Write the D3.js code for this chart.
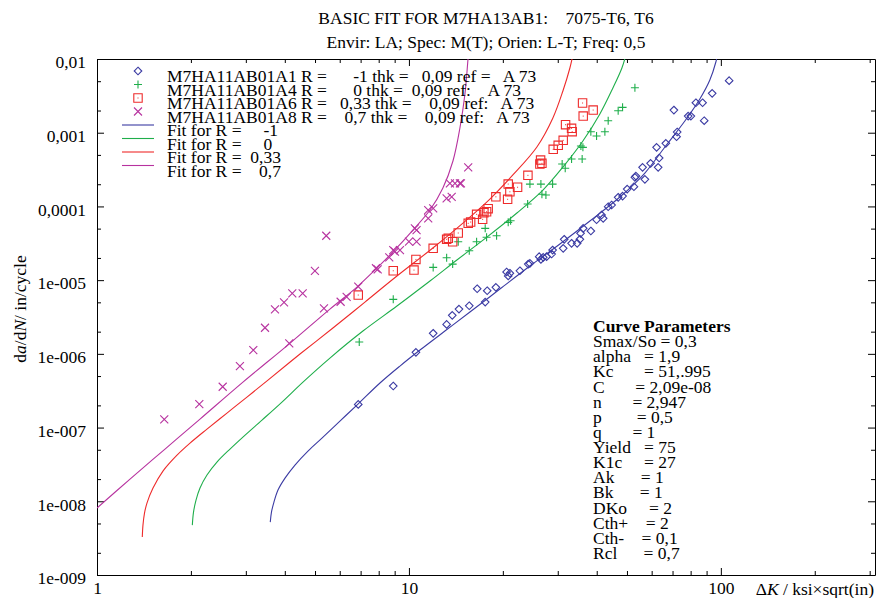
<!DOCTYPE html>
<html>
<head>
<meta charset="utf-8">
<script src="https://cdn.jsdelivr.net/npm/d3@7"></script>
<style>
  html, body { margin: 0; padding: 0; background: #fff; }
  svg text { font-family: "Liberation Serif", "Times New Roman", serif; fill: #000; }
  .pre { white-space: pre; }
</style>
</head>
<body>
<svg id="chart" width="876" height="598"></svg>
<script>
// ---- Measured crack growth data: [deltaK (ksi*sqrt(in)), da/dN (in/cycle)] ----
const pointsA1 = [ // R = -1
  [6.879,2.06e-7],[8.907,3.66e-7],[10.53,1.048e-6],[11.96,1.90e-6],[13.21,2.51e-6],[13.77,3.33e-6],
  [14.47,4.05e-6],[15.61,4.49e-6],[16.55,7.64e-6],[17.56,5.04e-6],[17.82,7.18e-6],[19.00,7.99e-6],
  [20.56,1.29e-5],[20.81,1.14e-5],[21.07,1.24e-5],[22.69,1.34e-5],[24.13,1.65e-5],[24.43,1.69e-5],
  [26.16,2.08e-5],[26.49,1.91e-5],[26.95,2.04e-5],[27.63,2.08e-5],[28.88,2.56e-5],[28.67,2.26e-5],
  [31.23,2.70e-5],[31.46,3.58e-5],[33.22,3.16e-5],[34.62,3.16e-5],[35.32,3.58e-5],[35.50,4.32e-5],
  [36.20,5.04e-5],[38.30,4.64e-5],[39.95,6.60e-5],[41.45,7.64e-5],[41.95,6.89e-5],[43.53,9.91e-5],
  [44.64,1.045e-4],[46.86,1.33e-4],[48.41,1.38e-4],[50.09,1.72e-4],[52.63,1.85e-4],[53.02,2.48e-4],
  [53.41,2.58e-4],[57.07,2.33e-4],[56.11,3.39e-4],[59.53,3.84e-4],[62.95,3.39e-4],[62.22,6.33e-4],
  [63.42,4.54e-4],[66.62,7.18e-4],[72.11,8.82e-4],[72.43,1.022e-3],[78.56,1.68e-3],[80.14,1.68e-3],
  [70.70,2.03e-3],[83.16,2.55e-3],[87.38,2.55e-3],[88.43,1.455e-3],[93.79,3.42e-3],[106.3,5.08e-3]
];
const pointsA4 = [ // R = 0
  [6.930,1.45e-6],[8.907,5.49e-6],[11.96,1.49e-5],[13.21,2.01e-5],[13.81,1.65e-5],[14.39,3.32e-5],
  [15.61,2.51e-5],[16.48,3.32e-5],[17.56,5.04e-5],[17.74,3.81e-5],[19.10,4.00e-5],[20.81,6.08e-5],
  [21.18,6.40e-5],[24.02,1.078e-4],[24.43,2.01e-4],[26.49,2.01e-4],[26.69,1.46e-4],[27.49,1.43e-4],
  [28.88,2.01e-4],[30.99,3.76e-4],[31.70,3.29e-4],[33.22,4.39e-4],[35.59,6.60e-4],[35.92,4.39e-4],
  [36.12,6.33e-4],[38.30,1.032e-3],[39.95,9.02e-4],[42.48,1.032e-3],[43.53,1.455e-3],[46.86,1.99e-3],
  [48.41,2.21e-3],[53.02,4.08e-3]
];
const pointsA6 = [ // R = 0.33
  [6.879,6.28e-6],[8.907,1.34e-5],[10.38,1.37e-5],[10.53,1.91e-5],[11.96,2.70e-5],[13.21,3.58e-5],
  [13.37,3.69e-5],[13.81,3.32e-5],[14.39,4.36e-5],[15.49,5.90e-5],[15.77,6.14e-5],[16.48,7.81e-5],
  [17.23,6.68e-5],[17.39,8.21e-5],[17.74,8.47e-5],[17.95,9.31e-5],[19.00,1.35e-4],[20.72,1.25e-4],
  [20.81,2.01e-4],[21.07,1.58e-4],[22.30,1.82e-4],[24.07,2.64e-4],[26.43,4.26e-4],[26.69,3.84e-4],
  [26.29,3.76e-4],[29.01,5.95e-4],[30.10,6.75e-4],[31.23,7.88e-4],[31.78,1.284e-3],[33.22,1.147e-3],
  [33.37,1.032e-3],[36.03,2.53e-3],[36.20,1.68e-3],[38.96,2.03e-3]
];
const pointsA8 = [ // R = 0.7
  [1.643,1.29e-7],[2.128,2.08e-7],[2.529,3.58e-7],[2.872,6.83e-7],[3.170,1.126e-6],[3.456,2.26e-6],
  [3.720,4.02e-6],[3.977,5.00e-6],[4.227,6.62e-6],[4.564,6.62e-6],[4.134,1.39e-6],[4.996,1.34e-5],
  [5.432,4.00e-5],[5.341,4.14e-6],[6.040,5.09e-6],[6.314,5.95e-6],[6.879,8.14e-6],[7.840,1.45e-5],
  [7.940,1.40e-5],[8.648,2.04e-5],[8.907,2.56e-5],[9.359,2.56e-5],[9.019,2.43e-5],[10.00,3.32e-5],
  [10.58,3.32e-5],[10.45,5.04e-5],[10.58,4.78e-5],[11.53,6.89e-5],[11.53,8.94e-5],[11.96,9.42e-5],
  [13.21,1.29e-4],[13.71,1.35e-4],[13.53,2.06e-4],[14.05,2.06e-4],[14.57,2.06e-4],[14.68,2.06e-4],
  [15.49,3.39e-4]
];

// ---- Fitted curves ----
const fitRm1 = [
  [3.593,5.22e-9],[3.625,7.14e-9],[3.692,9.75e-9],[3.804,1.42e-8],[4.006,2.06e-8],[4.312,3.10e-8],
  [4.746,4.80e-8],[5.262,7.20e-8],[6.008,1.225e-7],[6.864,2.08e-7],[8.075,4.02e-7],[9.359,6.83e-7],
  [10.85,1.126e-6],[13.04,2.04e-6],[15.69,3.69e-6],[19.57,7.57e-6],[24.43,1.553e-5],[30.48,3.09e-5],
  [38.03,6.34e-5],[47.46,1.341e-4],[57.07,2.84e-4],[66.15,6.40e-4],[76.66,1.441e-3],[85.63,2.87e-3],
  [92.19,5.19e-3],[96.38,9.11e-3],[98.17,1.325e-2]
];
const fitR0 = [
  [2.021,4.75e-9],[2.039,7.14e-9],[2.077,1.038e-8],[2.139,1.511e-8],[2.252,2.27e-8],[2.424,3.40e-8],
  [2.669,5.11e-8],[2.960,7.67e-8],[3.380,1.264e-7],[3.917,2.22e-7],[4.574,4.14e-7],[5.581,8.77e-7],
  [7.121,2.04e-6],[9.153,4.45e-6],[11.68,9.72e-6],[14.25,1.874e-5],[17.78,3.84e-5],[22.19,8.14e-5],
  [26.89,1.669e-4],[31.16,3.42e-4],[36.12,7.72e-4],[40.94,1.794e-3],[45.07,4.04e-3],[48.17,7.55e-3],
  [49.61,1.133e-2]
];
const fitR033 = [
  [1.397,3.27e-9],[1.404,4.75e-9],[1.420,6.92e-9],[1.446,9.45e-9],[1.512,1.511e-8],[1.627,2.57e-8],
  [1.805,4.23e-8],[1.987,6.16e-8],[2.252,9.54e-8],[2.610,1.573e-7],[3.025,2.59e-7],[3.533,4.41e-7],
  [4.474,9.94e-7],[5.706,2.24e-6],[7.227,5.04e-6],[9.153,1.137e-5],[11.93,2.73e-5],[14.90,5.95e-5],
  [18.18,1.260e-4],[21.54,2.67e-4],[25.72,6.40e-4],[28.94,1.583e-3],[31.16,3.68e-3],[32.81,7.55e-3],
  [33.54,1.133e-2]
];
const fitR07 = [
  [1.000,8.09e-9],[1.276,2.00e-8],[1.652,5.11e-8],[2.139,1.304e-7],[2.937,4.14e-7],[4.125,1.358e-6],
  [5.581,4.05e-6],[6.813,8.06e-6],[7.898,1.46e-5],[8.886,2.41e-5],[10.30,4.78e-5],[11.68,8.94e-5],
  [12.85,1.778e-4],[13.84,4.13e-4],[14.57,1.158e-3],[15.12,3.35e-3],[15.46,9.69e-3],[15.57,1.325e-2]
];

// ---- Labels ----
const titleLines = ["BASIC FIT FOR M7HA13AB1:    7075-T6, T6",
                    "Envir: LA; Spec: M(T); Orien: L-T; Freq: 0,5"];
const xTickValues = [1, 10, 100];
const xTickLabels = ["1", "10", "100"];
const yTickValues = [1e-2, 1e-3, 1e-4, 1e-5, 1e-6, 1e-7, 1e-8, 1e-9];
const yTickLabels = ["0,01", "0,001", "0,0001", "1e-005", "1e-006", "1e-007", "1e-008", "1e-009"];
const dataLegend = [
  "M7HA11AB01A1 R =      -1 thk =   0,09 ref =   A 73",
  "M7HA11AB01A4 R =      0 thk =  0,09 ref:    A 73",
  "M7HA11AB01A6 R =   0,33 thk =    0,09 ref:   A 73",
  "M7HA11AB01A8 R =    0,7 thk =    0,09 ref:   A 73"
];
const fitLegend = ["Fit for R =     -1", "Fit for R =     0", "Fit for R =  0,33", "Fit for R =    0,7"];
const paramTitle = "Curve Parameters";
const paramLines = [
  "Smax/So = 0,3", "alpha   = 1,9", "Kc       = 51,.995", "C       = 2,09e-08", "n       = 2,947",
  "p        = 0,5", "q       = 1", "Yield   = 75", "K1c     = 27", "Ak      = 1", "Bk      = 1",
  "DKo     = 2", "Cth+    = 2", "Cth-    = 0,1", "Rcl      = 0,7"
];

// ---- Styles per series ----
const colors = { m1: "#3b3ba3", r0: "#1fae4b", r033: "#ee2b2b", r07: "#b7329f" };
const series = [
  { pts: pointsA1, fit: fitRm1, color: colors.m1, marker: "diamond" },
  { pts: pointsA4, fit: fitR0, color: colors.r0, marker: "plus" },
  { pts: pointsA6, fit: fitR033, color: colors.r033, marker: "square" },
  { pts: pointsA8, fit: fitR07, color: colors.r07, marker: "cross" }
];

// ---- Layout ----
const plot = { left: 97, right: 875, top: 59, bottom: 575 };
const svg = d3.select("#chart");
svg.append("rect").attr("width", 876).attr("height", 598).attr("fill", "#fff");

const x = d3.scaleLog().domain([1, 312]).range([plot.left, plot.right]);
const y = d3.scaleLog().domain([1e-9, 1e-2]).range([plot.bottom, plot.top]);

const xMinor = [];
[1, 10, 100].forEach(d => { for (let m = 2; m <= 9; m++) if (d * m <= 312) xMinor.push(d * m); });
const yMinor = [];
yTickValues.slice(1).forEach(d => { [2, 5].forEach(m => yMinor.push(d * m)); });

const fontSize = 17.5;

// Axes with inward ticks; makeAxis returns a fresh d3 axis generator
function drawAxis(makeAxis, transform, majors, minors, labels) {
  const gMin = svg.append("g").attr("transform", transform)
    .call(makeAxis().tickValues(minors).tickSizeInner(-4).tickSizeOuter(0).tickFormat(""));
  gMin.select(".domain").remove();
  const g = svg.append("g").attr("transform", transform)
    .call(makeAxis().tickValues(majors).tickSizeInner(-7).tickSizeOuter(0)
      .tickPadding(labels ? 6 : 0)
      .tickFormat(labels ? (d, i) => labels[i] : ""));
  g.selectAll("line, path").attr("stroke", "#000").attr("stroke-width", 1);
  gMin.selectAll("line").attr("stroke", "#000").attr("stroke-width", 1);
  g.selectAll("text").attr("font-size", fontSize).attr("font-family", "Liberation Serif").attr("fill", "#000");
  return g;
}
const gx = drawAxis(() => d3.axisBottom(x), `translate(0,${plot.bottom})`, xTickValues, xMinor, xTickLabels);
gx.selectAll("text").attr("dy", "0.72em");
drawAxis(() => d3.axisTop(x), `translate(0,${plot.top})`, xTickValues, xMinor, null);
const gy = drawAxis(() => d3.axisLeft(y), `translate(${plot.left},0)`, yTickValues, yMinor, yTickLabels);
gy.selectAll("text").attr("x", -11).attr("dy", "0.5em");
drawAxis(() => d3.axisRight(y), `translate(${plot.right},0)`, yTickValues, yMinor, null);

// Titles
svg.selectAll(".title").data(titleLines).join("text")
  .attr("class", "title pre")
  .attr("x", (plot.left + plot.right) / 2).attr("y", (d, i) => 24 + i * 23.5)
  .attr("text-anchor", "middle").attr("font-size", fontSize).text(d => d);

// Y axis title
const yt = svg.append("text").attr("transform", "translate(26,309) rotate(-90)")
  .attr("text-anchor", "middle").attr("font-size", fontSize);
yt.append("tspan").text("d");
yt.append("tspan").attr("font-style", "italic").text("a");
yt.append("tspan").text("/d");
yt.append("tspan").attr("font-style", "italic").text("N");
yt.append("tspan").text("/ in/cycle");

// X axis title
const xt = svg.append("text").attr("x", 874).attr("y", 595).attr("text-anchor", "end").attr("font-size", fontSize);
xt.append("tspan").text("\u0394");
xt.append("tspan").attr("font-style", "italic").text("K");
xt.append("tspan").text(" / ksi\u00d7sqrt(in)");

// Clip region
svg.append("clipPath").attr("id", "plotClip").append("rect")
  .attr("x", plot.left).attr("y", plot.top)
  .attr("width", plot.right - plot.left).attr("height", plot.bottom - plot.top);

const line = d3.line().x(d => x(d[0])).y(d => y(d[1])).curve(d3.curveCatmullRom.alpha(0.5));
const curves = svg.append("g").attr("clip-path", "url(#plotClip)");
series.forEach(s => {
  curves.append("path").datum(s.fit).attr("d", line)
    .attr("fill", "none").attr("stroke", s.color).attr("stroke-width", 1.1);
});

// Marker shapes
const markerPath = {
  diamond: "M0,-3.8L3.8,0L0,3.8L-3.8,0Z",
  plus: "M-4,0H4M0,-4V4",
  square: "M-4.2,-4.2H4.2V4.2H-4.2Z",
  cross: "M-4,-4L4,4M-4,4L4,-4"
};
function drawMarker(g, type, color) {
  g.append("path").attr("d", markerPath[type]).attr("fill", "none")
    .attr("stroke", color).attr("stroke-width", 1.1);
  if (type === "square") g.append("rect").attr("x", -0.5).attr("y", -0.5).attr("width", 1).attr("height", 1).attr("fill", color);
}

const pts = svg.append("g").attr("clip-path", "url(#plotClip)");
series.forEach(s => {
  pts.append("g").selectAll("g").data(s.pts).join("g")
    .attr("transform", d => `translate(${x(d[0])},${y(d[1])})`)
    .each(function () { drawMarker(d3.select(this), s.marker, s.color); });
});

// Legend
const legend = svg.append("g");
const legBase = 82, legStep = 13.5, legText = 167, legFont = 17.5;
series.forEach((s, i) => {
  const g = legend.append("g").attr("transform", `translate(138,${legBase + i * legStep - 11})`);
  drawMarker(g, s.marker, s.color);
  legend.append("text").attr("class", "pre").attr("x", legText).attr("y", legBase + i * legStep)
    .attr("font-size", legFont).text(dataLegend[i]);
});
series.forEach((s, i) => {
  const by = legBase + (i + 4) * legStep;
  legend.append("line").attr("x1", 122).attr("x2", 154).attr("y1", by - 11).attr("y2", by - 11)
    .attr("stroke", s.color).attr("stroke-width", 1.1);
  legend.append("text").attr("class", "pre").attr("x", legText).attr("y", by)
    .attr("font-size", legFont).text(fitLegend[i]);
});

// Curve parameter block
const params = svg.append("g");
params.append("text").attr("x", 593).attr("y", 332).attr("font-size", fontSize)
  .attr("font-weight", "bold").text(paramTitle);
params.selectAll(".param").data(paramLines).join("text")
  .attr("class", "param pre").attr("x", 593).attr("y", (d, i) => 332 + (i + 1) * 15.13)
  .attr("font-size", fontSize).text(d => d);
</script>
</body>
</html>
